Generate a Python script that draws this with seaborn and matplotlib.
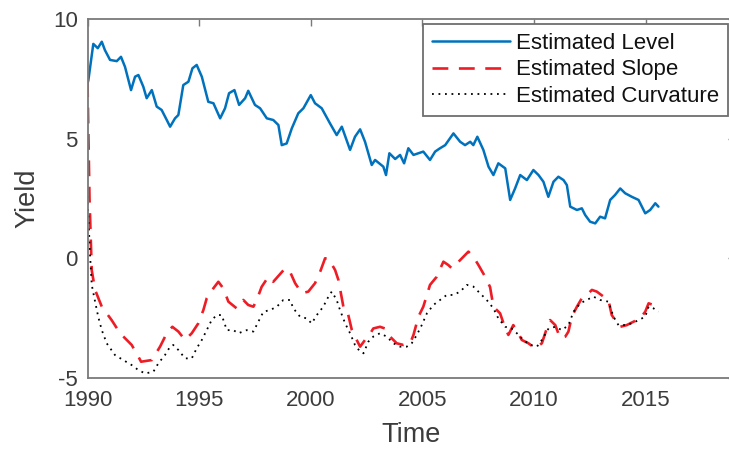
import numpy as np
import pandas as pd
import matplotlib
matplotlib.use("Agg")
import matplotlib.pyplot as plt
import seaborn as sns

# ---- data -------------------------------------------------------------
level_t = [1990.00, 1990.04, 1990.26, 1990.46, 1990.64, 1990.78, 1991.01, 1991.31, 1991.50,
           1991.68, 1991.95, 1992.13, 1992.28, 1992.50, 1992.65, 1992.88, 1993.10, 1993.32,
           1993.55, 1993.70, 1993.92, 1994.07, 1994.29, 1994.52, 1994.70, 1994.89, 1995.12,
           1995.41, 1995.64, 1995.94, 1996.16, 1996.34, 1996.58, 1996.79, 1997.06, 1997.20,
           1997.50, 1997.73, 1998.03, 1998.32, 1998.55, 1998.70, 1998.92, 1999.15, 1999.44,
           1999.67, 2000.00, 2000.19, 2000.49, 2000.86, 2001.16, 2001.39, 2001.76, 2001.98,
           2002.21, 2002.43, 2002.73, 2002.88, 2003.25, 2003.37, 2003.52, 2003.78, 2004.00,
           2004.18, 2004.37, 2004.60, 2004.82, 2005.04, 2005.34, 2005.57, 2005.79, 2006.02,
           2006.39, 2006.69, 2006.91, 2007.14, 2007.28, 2007.46, 2007.73, 2007.96, 2008.18,
           2008.40, 2008.71, 2008.93, 2009.15, 2009.38, 2009.68, 2009.97, 2010.20, 2010.42,
           2010.64, 2010.87, 2011.09, 2011.32, 2011.47, 2011.62, 2011.92, 2012.14, 2012.29,
           2012.51, 2012.74, 2012.96, 2013.18, 2013.41, 2013.63, 2013.86, 2014.08, 2014.38,
           2014.68, 2014.98, 2015.20, 2015.43, 2015.57]
level_v = [7.30, 7.45, 8.96, 8.78, 9.05, 8.70, 8.29, 8.24, 8.42,
           8.00, 7.03, 7.59, 7.66, 7.17, 6.69, 7.03, 6.34, 6.20,
           5.78, 5.50, 5.85, 5.99, 7.24, 7.38, 7.94, 8.08, 7.59,
           6.54, 6.48, 5.85, 6.27, 6.90, 7.03, 6.41, 6.69, 7.00,
           6.41, 6.27, 5.85, 5.78, 5.57, 4.73, 4.80, 5.43, 6.06,
           6.27, 6.82, 6.48, 6.27, 5.64, 5.15, 5.50, 4.53, 5.08,
           5.39, 4.87, 3.90, 4.11, 3.83, 3.48, 4.39, 4.15, 4.32,
           3.97, 4.60, 4.32, 4.39, 4.46, 4.11, 4.46, 4.60, 4.73,
           5.22, 4.87, 4.73, 4.87, 4.73, 5.08, 4.53, 3.83, 3.48,
           3.97, 3.76, 2.44, 2.92, 3.48, 3.27, 3.69, 3.48, 3.20,
           2.57, 3.20, 3.41, 3.27, 3.06, 2.16, 2.02, 2.09, 1.81,
           1.53, 1.46, 1.74, 1.67, 2.44, 2.65, 2.92, 2.72, 2.57,
           2.44, 1.88, 2.02, 2.30, 2.16]

slope_t = [1990.00, 1990.09, 1990.19, 1990.34, 1990.64, 1991.08, 1991.46, 1991.98, 1992.28,
           1992.40, 1992.88, 1993.25, 1993.55, 1993.80, 1994.07, 1994.37, 1994.67, 1994.96,
           1995.19, 1995.34, 1995.64, 1995.86, 1996.08, 1996.31, 1996.68, 1996.98, 1997.20,
           1997.43, 1997.58, 1997.80, 1998.10, 1998.32, 1998.85, 1999.07, 1999.30, 1999.60,
           1999.89, 2000.19, 2000.42, 2000.64, 2000.79, 2001.09, 2001.24, 2001.46, 2001.61,
           2001.84, 2001.98, 2002.21, 2002.43, 2002.58, 2002.80, 2003.10, 2003.32, 2003.55,
           2003.85, 2004.15, 2004.45, 2004.60, 2004.82, 2005.04, 2005.34, 2005.64, 2005.94,
           2006.16, 2006.32, 2006.62, 2006.84, 2007.06, 2007.28, 2007.51, 2007.81, 2008.03,
           2008.18, 2008.48, 2008.71, 2008.85, 2009.07, 2009.22, 2009.45, 2009.75, 2010.05,
           2010.35, 2010.57, 2010.72, 2010.95, 2011.17, 2011.40, 2011.54, 2011.69, 2011.92,
           2012.14, 2012.36, 2012.59, 2012.81, 2013.11, 2013.33, 2013.48, 2013.63, 2013.86,
           2014.15, 2014.45, 2014.75, 2014.98, 2015.13, 2015.35, 2015.57]
slope_v = [7.40, 2.50, -0.50, -1.32, -2.02, -2.58, -3.13, -3.62, -4.11,
           -4.32, -4.25, -3.69, -3.13, -2.86, -3.06, -3.41, -3.13, -2.72,
           -2.16, -1.67, -1.25, -0.98, -1.25, -1.81, -2.09, -1.74, -1.95,
           -2.02, -1.74, -1.19, -0.77, -0.98, -0.42, -0.56, -1.04, -1.46,
           -1.39, -1.04, -0.56, 0.00, 0.00, -0.49, -0.91, -2.02, -2.09,
           -3.00, -3.27, -3.69, -3.41, -3.27, -2.93, -2.86, -2.93, -3.27,
           -3.55, -3.62, -3.55, -3.20, -2.44, -2.02, -1.11, -0.77, -0.14,
           -0.28, -0.42, -0.14, 0.07, 0.28, 0.07, -0.28, -0.77, -1.20,
           -2.02, -2.30, -2.93, -3.20, -2.79, -3.00, -3.41, -3.55, -3.76,
           -3.55, -2.93, -2.58, -2.79, -3.34, -3.27, -3.06, -2.44, -2.02,
           -1.67, -1.53, -1.32, -1.39, -1.60, -1.74, -2.37, -2.58, -2.86,
           -2.79, -2.65, -2.51, -2.23, -1.88, -1.95, -2.16]

curv_t = [1990.00, 1990.11, 1990.19, 1990.34, 1990.48, 1990.64, 1990.86, 1991.23, 1991.60,
          1991.98, 1992.28, 1992.58, 1992.95, 1993.17, 1993.47, 1993.70, 1993.84, 1994.07,
          1994.37, 1994.67, 1994.89, 1995.12, 1995.34, 1995.56, 1995.79, 1996.01, 1996.24,
          1996.53, 1996.76, 1997.13, 1997.43, 1997.65, 1997.88, 1998.18, 1998.48, 1998.77,
          1999.07, 1999.22, 1999.52, 1999.82, 2000.04, 2000.27, 2000.56, 2000.79, 2000.94,
          2001.16, 2001.31, 2001.54, 2001.76, 2001.98, 2002.21, 2002.36, 2002.58, 2002.80,
          2003.10, 2003.40, 2003.70, 2004.00, 2004.30, 2004.52, 2004.75, 2004.97, 2005.20,
          2005.49, 2005.79, 2006.09, 2006.39, 2006.69, 2006.99, 2007.28, 2007.58, 2007.88,
          2008.18, 2008.40, 2008.71, 2009.00, 2009.23, 2009.52, 2009.83, 2010.13, 2010.35,
          2010.65, 2010.95, 2011.25, 2011.54, 2011.77, 2012.07, 2012.36, 2012.66, 2012.96,
          2013.33, 2013.56, 2013.78, 2014.01, 2014.38, 2014.68, 2014.98, 2015.13, 2015.35,
          2015.57]
curv_v = [2.60, 0.21, -1.11, -1.81, -2.44, -3.00, -3.55, -4.04, -4.25,
          -4.46, -4.67, -4.81, -4.74, -4.39, -4.04, -3.69, -3.62, -3.83,
          -4.18, -4.18, -3.76, -3.41, -3.00, -2.58, -2.37, -2.37, -3.00,
          -3.00, -3.13, -3.00, -3.06, -2.65, -2.23, -2.16, -2.02, -1.74,
          -1.74, -2.09, -2.44, -2.51, -2.72, -2.37, -2.02, -1.60, -1.39,
          -1.74, -2.16, -2.72, -3.13, -3.62, -3.90, -3.97, -3.48, -3.27,
          -3.13, -3.27, -3.55, -3.69, -3.69, -3.55, -3.20, -2.79, -2.30,
          -1.95, -1.74, -1.53, -1.53, -1.39, -1.11, -1.18, -1.46, -1.74,
          -2.09, -2.51, -2.86, -2.93, -3.13, -3.41, -3.62, -3.69, -3.41,
          -2.93, -2.86, -3.00, -2.79, -2.23, -1.88, -1.74, -1.60, -1.74,
          -1.81, -2.44, -2.79, -2.79, -2.72, -2.58, -2.44, -2.02, -2.09,
          -2.23]

series_names = ["Estimated Level", "Estimated Slope", "Estimated Curvature"]
x_ticks = [1990, 1995, 2000, 2005, 2010, 2015]
y_ticks = [-5, 0, 5, 10]

# ---- styling ----------------------------------------------------------
sns.set_style("white")
plt.rcParams["font.family"] = ["Liberation Sans", "DejaVu Sans"]
plt.rcParams["axes.unicode_minus"] = False

text_gray = "#3c3c3c"
axis_gray = "#7a7a7a"

fig = plt.figure(figsize=(7.29, 4.5), dpi=100)
# axes box runs slightly past the right edge of the canvas
x0_px, x1_px, y0_px, y1_px = 87.5, 735.0, 378.0, 19.0
ax = fig.add_axes([x0_px / 729, 1 - y0_px / 450, (x1_px - x0_px) / 729, (y0_px - y1_px) / 450])

frames = [
    pd.DataFrame({"Time": level_t, "Yield": level_v, "series": series_names[0]}),
    pd.DataFrame({"Time": slope_t, "Yield": slope_v, "series": series_names[1]}),
    pd.DataFrame({"Time": curv_t, "Yield": curv_v, "series": series_names[2]}),
]
styles = [
    dict(color="#0072BD", linewidth=1.8, linestyle="-"),
    dict(color="#ee1c25", linewidth=1.9, linestyle=(0, (6, 4))),
    dict(color="#000000", linewidth=1.3, linestyle=(0, (1, 2.6))),
]
for df, st, name in zip(frames, styles, series_names):
    sns.lineplot(data=df, x="Time", y="Yield", ax=ax, estimator=None,
                 sort=False, label=name, **st)

ax.set_xlim(1990, 2019)
ax.set_ylim(-5, 10)
ax.set_xticks(x_ticks)
ax.set_yticks(y_ticks)
ax.tick_params(axis="both", direction="in", length=5, width=1.0, color=axis_gray,
               labelsize=16, labelcolor=text_gray, top=True, right=True)
ax.tick_params(axis="x", pad=9)
ax.tick_params(axis="y", pad=7)
for sp in ax.spines.values():
    sp.set_visible(True)
    sp.set_color(axis_gray)
    sp.set_linewidth(1.3)

ax.set_xlabel("Time", fontsize=19.5, color=text_gray)
ax.set_ylabel("Yield", fontsize=19.5, color=text_gray)
ax.xaxis.set_label_coords(0.5, -0.159)
ax.yaxis.set_label_coords(-0.093, 0.5)
ax.xaxis.label.set_va("center")
ax.yaxis.label.set_va("center")

leg = ax.legend(loc="upper right", bbox_to_anchor=(728 / 729, 1 - 24 / 450),
                bbox_transform=fig.transFigure, fontsize=16, frameon=True,
                fancybox=False, framealpha=1, edgecolor="#6e6e6e",
                handlelength=3.5, handletextpad=0.27, labelspacing=0.25,
                borderpad=0.4, borderaxespad=0)
leg.get_frame().set_linewidth(1.3)
for txt in leg.get_texts():
    txt.set_color("#111111")

fig.savefig("out.png", dpi=100)
